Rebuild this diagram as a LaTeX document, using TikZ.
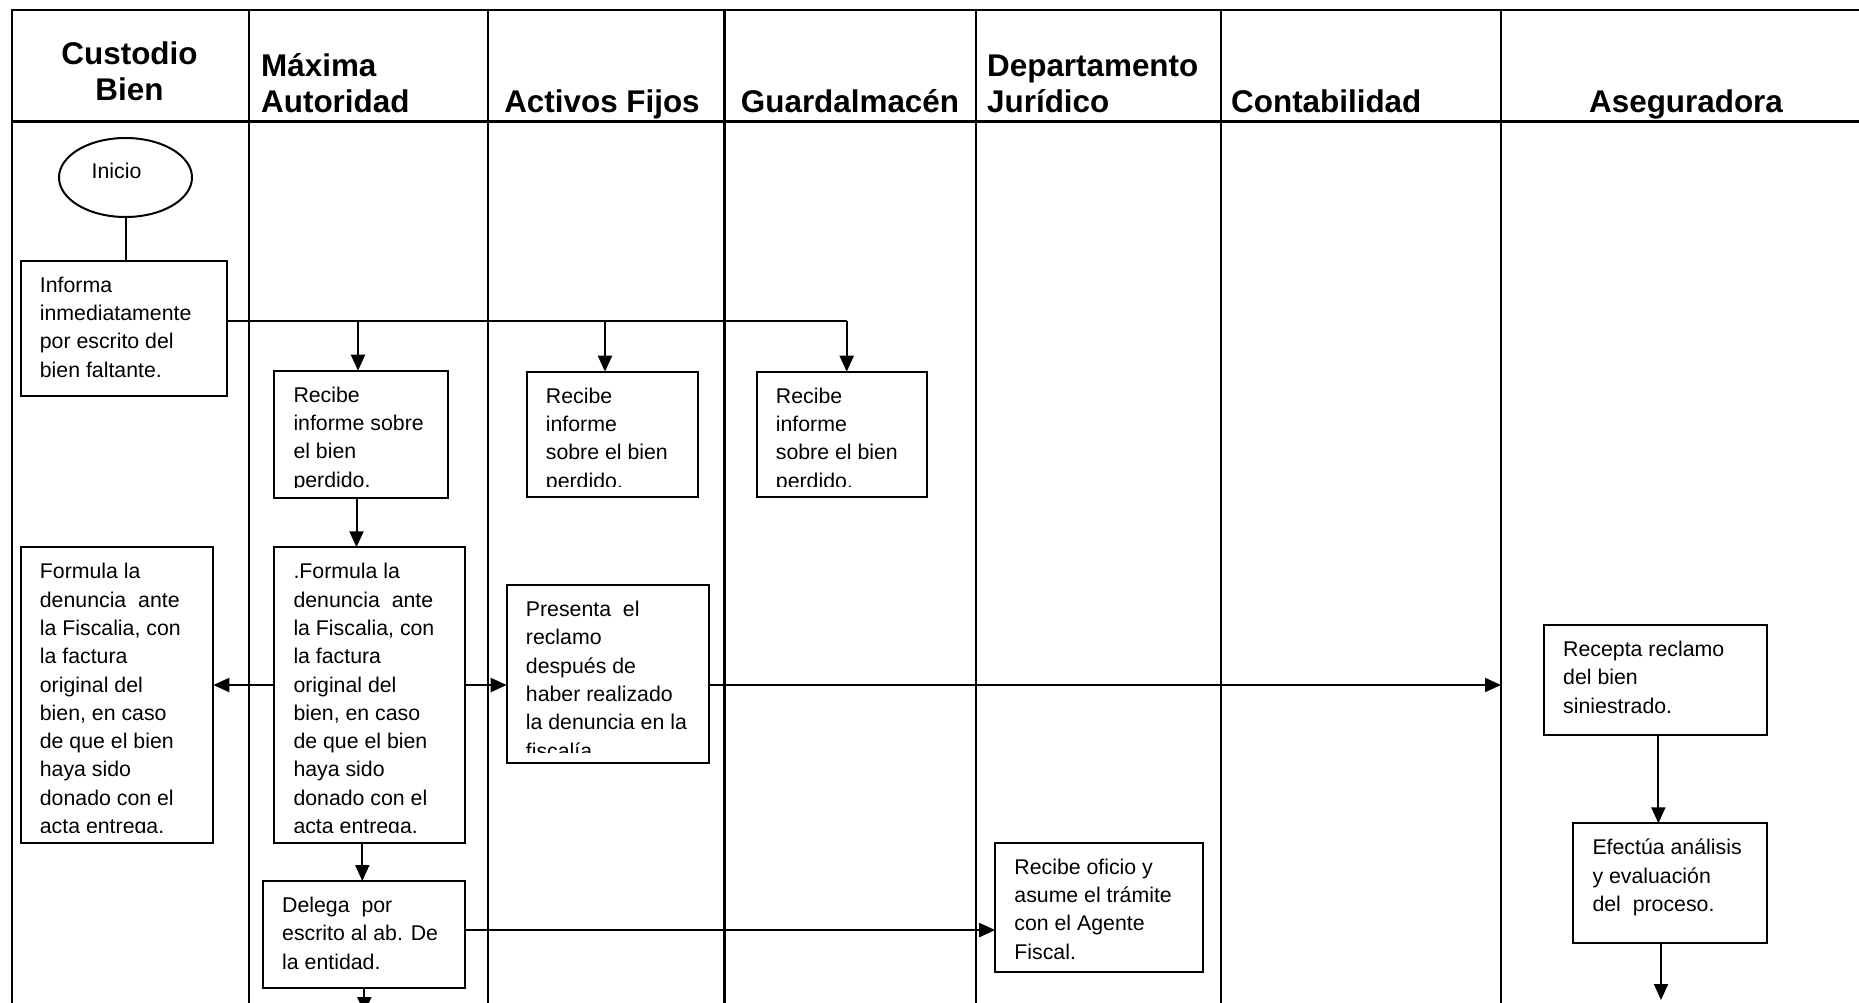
\documentclass[tikz,border=0pt]{standalone}
\usepackage{fontspec}
\setmainfont{Liberation Sans}
\usetikzlibrary{arrows.meta,shapes.geometric}

\tikzset{
  lane/.style={line width=2.3pt, line cap=rect},
  procbox/.style={draw, line width=2pt, inner sep=0pt, outer sep=0pt},
  boxtext/.style={anchor=base west, inner sep=0pt, font=\fontsize{21.3}{28.3}\selectfont},
  lanehead/.style={inner sep=0pt, font=\fontsize{31.4}{36}\selectfont\bfseries},
  plain/.style={line width=2pt},
  flow/.style={line width=2pt, -{Triangle[length=16pt,width=14pt]}},
}

% Process box: name, left, top, right, bottom, text (text area ends 10.5 above the bottom)
\newcommand\flowbox[6]{%
  \node[procbox, anchor=north west, minimum width={#4-#2}, minimum height={#5-#3}] (#1) at (#2,#3) {};
  \begin{scope}
    \clip (#2,#3) rectangle (#4,{#5-10.5});
    \node[boxtext] (#1-text) at ({#2+19},{#3+31.5}) {\parbox[t]{240pt}{\raggedright #6}};
  \end{scope}}

\begin{document}
\begin{tikzpicture}[x=1pt, y=-1pt]
  \fill[white] (0,0) rectangle (1859,1003);
  \useasboundingbox (0,0) rectangle (1859,1003);

  % swimlane grid
  \draw[lane] (12,10) -- (1875,10);
  \draw[lane] (12,121.5) -- (1875,121.5);
  \foreach \lx in {12,249,488,724.5,976,1221,1501}
    \draw[lane] (\lx,10) -- (\lx,1015);

  % lane titles
  \node[lanehead, anchor=base] (h-custodio) at (129.5,65) {\parbox[t]{230pt}{\centering Custodio\\Bien}};
  \node[lanehead, anchor=base west] (h-maxima) at (261,77) {\parbox[t]{220pt}{Máxima\\Autoridad}};
  \node[lanehead, anchor=base] (h-activos) at (602,113) {Activos Fijos};
  \node[lanehead, anchor=base] (h-guarda) at (850,113) {Guardalmacén};
  \node[lanehead, anchor=base west] (h-juridico) at (987,77) {\parbox[t]{220pt}{Departamento\\Jurídico}};
  \node[lanehead, anchor=base west] (h-conta) at (1231,113) {Contabilidad};
  \node[lanehead, anchor=base west] (h-asegura) at (1589,113) {Aseguradora};

  % start
  \node[draw, ellipse, line width=2pt, inner sep=0pt, minimum width=133, minimum height=79] (inicio) at (125.5,177.5) {};
  \node[inner sep=0pt, anchor=base west, font=\fontsize{21.3}{28.3}\selectfont] (inicio-text) at (91.5,178.3) {Inicio};

  % process boxes
  \flowbox{informa}{20.7}{260.7}{227.3}{395.7}{Informa\\inmediatamente\\por escrito del\\bien faltante.}
  \flowbox{recibeA}{274.3}{370.7}{447.7}{497.7}{Recibe\\informe sobre\\el bien\\perdido.}
  \flowbox{recibeB}{526.7}{371.7}{697.7}{496.7}{Recibe\\informe\\sobre el bien\\perdido.}
  \flowbox{recibeC}{756.7}{371.7}{926.7}{496.7}{Recibe\\informe\\sobre el bien\\perdido.}
  \flowbox{formulaL}{20.7}{547.3}{213.3}{843.3}{Formula la\\denuncia\ \ ante\\la Fiscalia, con\\la factura\\original del\\bien, en caso\\de que el bien\\haya sido\\donado con el\\acta entrega.}
  \flowbox{formulaM}{274.3}{547.3}{465.3}{843.3}{.Formula la\\denuncia\ \ ante\\la Fiscalia, con\\la factura\\original del\\bien, en caso\\de que el bien\\haya sido\\donado con el\\acta entrega.}
  \flowbox{presenta}{506.7}{585}{709.4}{763.3}{Presenta\ \ el\\reclamo\\después de\\haber realizado\\la denuncia en la\\fiscalía}
  \flowbox{delega}{263}{881}{465.3}{987.7}{Delega\ \ por\\escrito al ab. De\\la entidad.}
  \flowbox{oficio}{995.2}{842.7}{1203.3}{971.7}{Recibe oficio y\\asume el trámite\\con el Agente\\Fiscal.}
  \flowbox{recepta}{1544}{625}{1766.7}{735}{Recepta reclamo\\del bien\\siniestrado.}
  \flowbox{efectua}{1573.3}{823.3}{1766.7}{943.3}{Efectúa análisis\\y evaluación\\del\ \ proceso.}

  % connectors
  \draw[plain] (inicio.south) -- (inicio.south |- informa.north);

  \coordinate (busA) at (358,321);
  \coordinate (busB) at (605,321);
  \coordinate (busC) at (846.7,321);
  \draw[plain] (informa.east |- busA) -- (busC);
  \draw[flow] (busA) -- (busA |- recibeA.north);
  \draw[flow] (busB) -- (busB |- recibeB.north);
  \draw[flow] (busC) -- (busC |- recibeC.north);

  \draw[flow] ([xshift=-4.5pt]recibeA.south) -- ([xshift=-4.5pt]recibeA.south |- formulaM.north);
  \draw[flow] ([yshift=10.3pt]formulaM.west) -- ([yshift=10.3pt]formulaM.west -| formulaL.east);
  \draw[flow] ([yshift=10.3pt]formulaM.east) -- ([yshift=10.3pt]formulaM.east -| presenta.west);

  \coordinate (claim) at (1501,685);
  \draw[flow] (presenta.east |- claim) -- (claim);

  \draw[flow] ([xshift=-7.5pt]formulaM.south) -- ([xshift=-7.5pt]formulaM.south |- delega.north);
  \draw[flow] ([yshift=4.3pt]delega.east) -- ([yshift=4.3pt]delega.east -| oficio.west);

  \coordinate (delegaOut) at (364.3,1013);
  \draw[flow] (delega.south -| delegaOut) -- (delegaOut);

  \draw[flow] ([xshift=3pt]recepta.south) -- ([xshift=3pt]recepta.south |- efectua.north);
  \coordinate (efectuaOut) at (1661,1000);
  \draw[flow] (efectua.south -| efectuaOut) -- (efectuaOut);
\end{tikzpicture}
\end{document}
